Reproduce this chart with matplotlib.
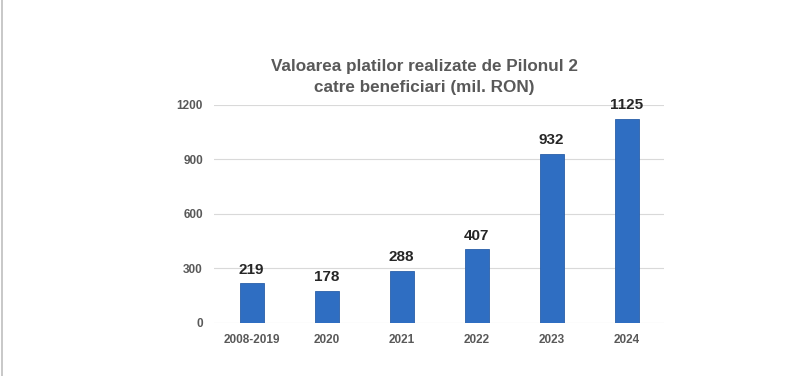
import matplotlib
matplotlib.use('Agg')
from matplotlib import pyplot as plt
from matplotlib.lines import Line2D

years = ["2008-2019", "2020", "2021", "2022", "2023", "2024"]
values = [219, 178, 288, 407, 932, 1125]
yticks = [0, 300, 600, 900, 1200]

plt.rcParams['font.family'] = ['Liberation Sans', 'DejaVu Sans']

fig = plt.figure(figsize=(8, 3.76), dpi=100)
ax = fig.add_axes([0.2675, 0.141, 0.5625, 0.58])

bars = ax.bar(years, values, width=0.32, color='#2F6EC2', edgecolor='#2A5FA8',
              linewidth=0.6, zorder=3)
for b, v in zip(bars, values):
    ax.text(b.get_x() + b.get_width() / 2, v + 35, str(v), ha='center',
            va='bottom', fontsize=11, fontweight='bold', color='#262626')

ax.set_ylim(0, 1200)
ax.set_xlim(-0.5, len(years) - 0.5)
ax.set_yticks(yticks)
ax.yaxis.grid(True, color='#D9D9D9', linewidth=0.8, zorder=0)
ax.tick_params(length=0, labelsize=8.5, colors='#595959', pad=8)
for lbl in ax.get_xticklabels() + ax.get_yticklabels():
    lbl.set_fontweight('bold')
for s in ax.spines.values():
    s.set_visible(False)

fig.text(0.53, 0.794, "Valoarea platilor realizate de Pilonul 2\ncatre beneficiari (mil. RON)",
         ha='center', va='center', fontsize=12.3, fontweight='bold', color='#595959',
         linespacing=1.5)

# left border line of the screenshot
fig.add_artist(Line2D([0.002, 0.002], [0, 1], transform=fig.transFigure,
                      color='#BFBFBF', linewidth=1.2))

plt.savefig('out.png', dpi=100)
